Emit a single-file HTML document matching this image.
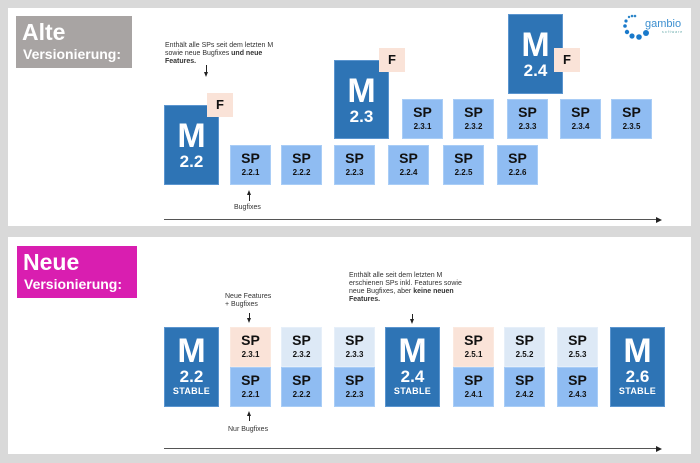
<!DOCTYPE html>
<html><head><meta charset="utf-8"><style>
*{margin:0;padding:0;box-sizing:border-box}
body{width:700px;height:463px;background:#d9d9d9;position:relative;overflow:hidden;font-family:"Liberation Sans","DejaVu Sans",sans-serif}
.p{position:absolute;background:#fff}
.a{position:absolute}
.M{position:absolute;background:#2e74b5;color:#fff;text-align:center;font-weight:bold;border:1px solid #5b95cf}
.M .m{font-size:34px;line-height:34px}
.M .v{font-size:17px;line-height:18px}
.M .s{font-size:9px;line-height:11px;letter-spacing:.3px}
.S{position:absolute;width:41px;height:40px;background:#8fbcf2;text-align:center;color:#111;font-weight:bold;border:1px solid #a9cdf6}
.S .t{font-size:14px;line-height:15px;margin-top:5px}
.S .n{font-size:8px;line-height:10px;margin-top:2px}
.pe{background:#fae3d8;border-color:#fbe9df}
.pb{background:#dde9f6;border-color:#e6eff9}
.F{position:absolute;width:26px;height:24px;background:#fae3d8;color:#111;font-weight:bold;font-size:13px;text-align:center;line-height:24px}
.txt{position:absolute;font-size:7px;line-height:8px;color:#333}
.ln{position:absolute;height:1px;background:#555}
.ar{position:absolute;width:0;height:0;border-top:3px solid transparent;border-bottom:3px solid transparent;border-left:6px solid #222}
.vl{position:absolute;width:1px;background:#222}
.dn{position:absolute;width:0;height:0;border-left:2.5px solid transparent;border-right:2.5px solid transparent;border-top:5px solid #222}
.up{position:absolute;width:0;height:0;border-left:2.5px solid transparent;border-right:2.5px solid transparent;border-bottom:5px solid #222}
.title{position:absolute;color:#fff;font-weight:bold;padding:4px 0 0 6px}
.title .b{font-size:23px;line-height:25px}
.title .c{font-size:14px;line-height:18px;margin-left:1px}
</style></head><body>
<div class="p" style="left:8px;top:8px;width:683px;height:218px"></div>
<div class="p" style="left:8px;top:237px;width:683px;height:217px"></div>

<div class="title" style="left:16px;top:16px;width:116px;height:52px;background:#a8a4a3"><div class="b">Alte</div><div class="c">Versionierung:</div></div>

<svg class="a" style="left:622px;top:13px" width="68" height="32">
<circle cx="7" cy="4" r="1.2" fill="#2e86c8"/><circle cx="10" cy="3" r="1.3" fill="#2e86c8"/><circle cx="13" cy="3" r="1.3" fill="#2e86c8"/>
<circle cx="4" cy="8" r="1.6" fill="#1a7acb"/><circle cx="3" cy="13" r="1.8" fill="#1a7acb"/><circle cx="5" cy="19" r="2.2" fill="#1a7acb"/>
<circle cx="10" cy="23" r="2.6" fill="#1a7acb"/><circle cx="17" cy="24" r="2.8" fill="#1a7acb"/><circle cx="24" cy="20" r="3" fill="#1a7acb"/>
<text x="23" y="14" font-size="11" fill="#3c8fd0" font-family="Liberation Sans">gambio</text>
<text x="40" y="20" font-size="3.5" fill="#6aa" letter-spacing="1">software</text>
</svg>

<div class="txt" style="left:165px;top:42px;width:112px">Enthält alle SPs seit dem letzten M sowie neue Bugfixes <b>und neue Features.</b></div>
<div class="vl" style="left:206px;top:65px;height:8px"></div><div class="dn" style="left:203.5px;top:72px"></div>

<div class="M" style="left:164px;top:105px;width:55px;height:80px;padding-top:13px"><div class="m">M</div><div class="v">2.2</div></div>
<div class="F" style="left:207px;top:93px">F</div>
<div class="M" style="left:334px;top:60px;width:55px;height:79px;padding-top:13px"><div class="m">M</div><div class="v">2.3</div></div>
<div class="F" style="left:379px;top:48px">F</div>
<div class="M" style="left:508px;top:14px;width:55px;height:80px;padding-top:13px"><div class="m">M</div><div class="v">2.4</div></div>
<div class="F" style="left:554px;top:48px">F</div>

<div class="S" style="left:230px;top:145px"><div class="t">SP</div><div class="n">2.2.1</div></div>
<div class="S" style="left:281px;top:145px"><div class="t">SP</div><div class="n">2.2.2</div></div>
<div class="S" style="left:334px;top:145px"><div class="t">SP</div><div class="n">2.2.3</div></div>
<div class="S" style="left:388px;top:145px"><div class="t">SP</div><div class="n">2.2.4</div></div>
<div class="S" style="left:443px;top:145px"><div class="t">SP</div><div class="n">2.2.5</div></div>
<div class="S" style="left:497px;top:145px"><div class="t">SP</div><div class="n">2.2.6</div></div>
<div class="S" style="left:402px;top:99px"><div class="t">SP</div><div class="n">2.3.1</div></div>
<div class="S" style="left:453px;top:99px"><div class="t">SP</div><div class="n">2.3.2</div></div>
<div class="S" style="left:507px;top:99px"><div class="t">SP</div><div class="n">2.3.3</div></div>
<div class="S" style="left:560px;top:99px"><div class="t">SP</div><div class="n">2.3.4</div></div>
<div class="S" style="left:611px;top:99px"><div class="t">SP</div><div class="n">2.3.5</div></div>

<div class="up" style="left:246.5px;top:190px"></div><div class="vl" style="left:249px;top:194px;height:7px"></div>
<div class="txt" style="left:234px;top:204px">Bugfixes</div>
<div class="ln" style="left:164px;top:219px;width:494px"></div><div class="ar" style="left:656px;top:216.5px"></div>

<div class="title" style="left:17px;top:246px;width:120px;height:52px;background:#d91eb0"><div class="b">Neue</div><div class="c">Versionierung:</div></div>

<div class="txt" style="left:225px;top:293px">Neue Features<br>+ Bugfixes</div>
<div class="vl" style="left:249px;top:313px;height:6px"></div><div class="dn" style="left:246.5px;top:318px"></div>
<div class="txt" style="left:349px;top:272px;width:116px">Enthält alle seit dem letzten M erschienen SPs inkl. Features sowie neue Bugfixes, aber <b>keine neuen Features.</b></div>
<div class="vl" style="left:412px;top:314px;height:6px"></div><div class="dn" style="left:409.5px;top:319px"></div>

<div class="M" style="left:164px;top:327px;width:55px;height:80px;padding-top:6px"><div class="m">M</div><div class="v">2.2</div><div class="s">STABLE</div></div>
<div class="M" style="left:385px;top:327px;width:55px;height:80px;padding-top:6px"><div class="m">M</div><div class="v">2.4</div><div class="s">STABLE</div></div>
<div class="M" style="left:610px;top:327px;width:55px;height:80px;padding-top:6px"><div class="m">M</div><div class="v">2.6</div><div class="s">STABLE</div></div>

<div class="S pe" style="left:230px;top:327px"><div class="t">SP</div><div class="n">2.3.1</div></div>
<div class="S pb" style="left:281px;top:327px"><div class="t">SP</div><div class="n">2.3.2</div></div>
<div class="S pb" style="left:334px;top:327px"><div class="t">SP</div><div class="n">2.3.3</div></div>
<div class="S pe" style="left:453px;top:327px"><div class="t">SP</div><div class="n">2.5.1</div></div>
<div class="S pb" style="left:504px;top:327px"><div class="t">SP</div><div class="n">2.5.2</div></div>
<div class="S pb" style="left:557px;top:327px"><div class="t">SP</div><div class="n">2.5.3</div></div>
<div class="S" style="left:230px;top:367px"><div class="t">SP</div><div class="n">2.2.1</div></div>
<div class="S" style="left:281px;top:367px"><div class="t">SP</div><div class="n">2.2.2</div></div>
<div class="S" style="left:334px;top:367px"><div class="t">SP</div><div class="n">2.2.3</div></div>
<div class="S" style="left:453px;top:367px"><div class="t">SP</div><div class="n">2.4.1</div></div>
<div class="S" style="left:504px;top:367px"><div class="t">SP</div><div class="n">2.4.2</div></div>
<div class="S" style="left:557px;top:367px"><div class="t">SP</div><div class="n">2.4.3</div></div>

<div class="up" style="left:246.5px;top:411px"></div><div class="vl" style="left:249px;top:415px;height:6px"></div>
<div class="txt" style="left:228px;top:426px">Nur Bugfixes</div>
<div class="ln" style="left:164px;top:448px;width:494px"></div><div class="ar" style="left:656px;top:445.5px"></div>
</body></html>
